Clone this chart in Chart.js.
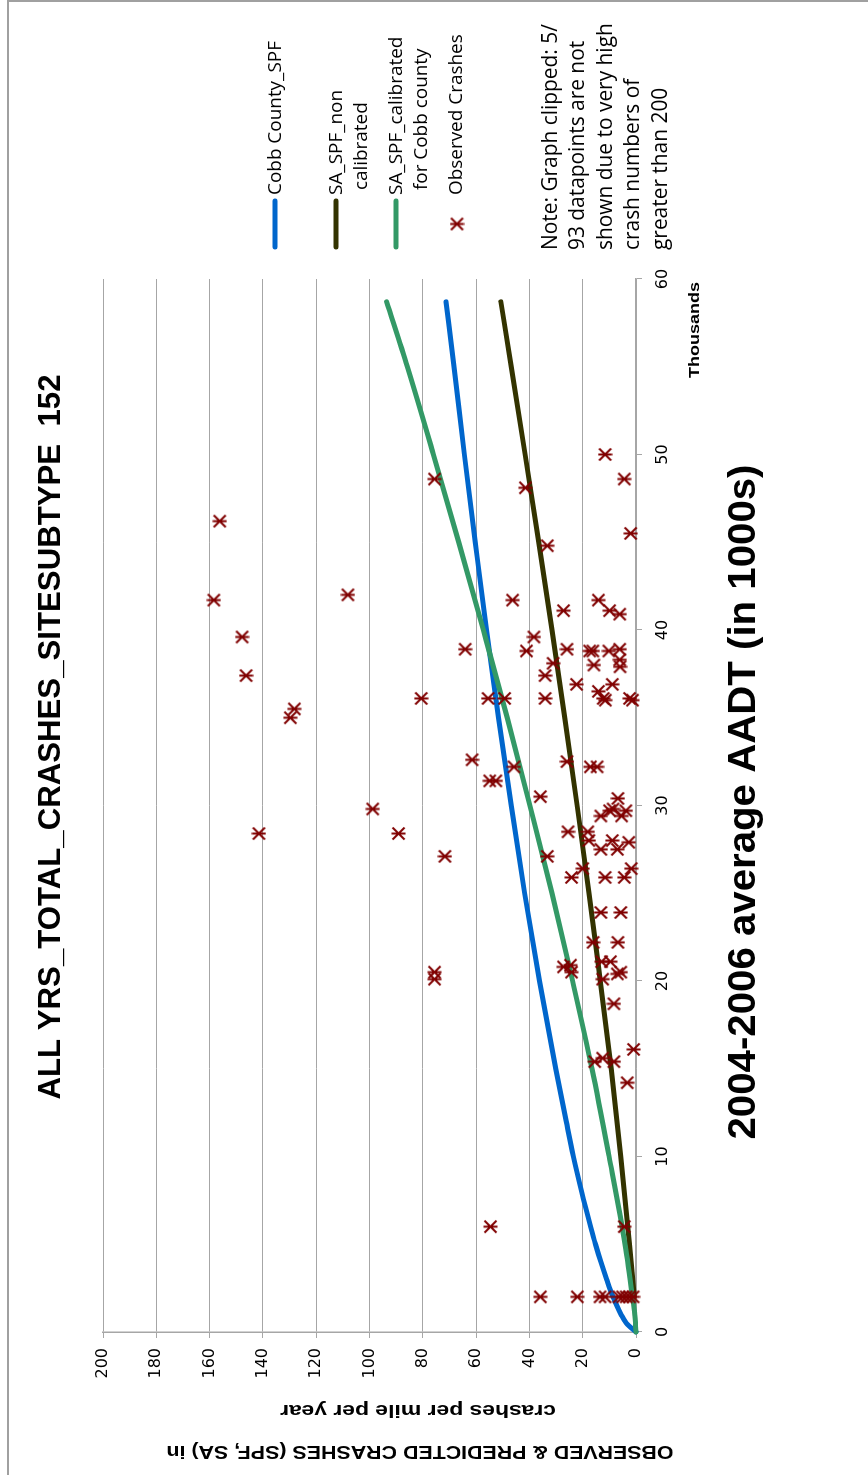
<!DOCTYPE html>
<html>
<head>
<meta charset="utf-8">
<script src="https://cdn.jsdelivr.net/npm/chart.js@4/dist/chart.umd.min.js"></script>
<style>
  html, body { margin: 0; padding: 0; background: #fff; overflow: hidden; }
  body { width: 868px; height: 1475px; position: relative; }
  /* the chart is laid out landscape and turned a quarter turn counter-clockwise */
  #wrap {
    position: absolute; left: 0; top: 0;
    width: 1475px; height: 868px;
    transform-origin: 0 0;
    transform: translate(0px, 1475px) rotate(-90deg);
  }
  canvas { display: block; }
</style>
</head>
<body>
<div id="wrap"><canvas id="c" width="1475" height="868"></canvas></div>
<script>
// ---- data ----------------------------------------------------------------
// Observed crashes per mile per year against 2004-2006 average AADT (thousands)
const obsAadt = [
  48.6, 48.1, 50.0, 48.6,
  46.2, 45.5, 44.8, 41.7, 42.0, 41.7, 41.7, 41.1, 41.1, 40.9, 39.6, 39.6, 38.9, 38.8,
  38.9, 38.8, 38.8, 38.8, 38.9, 38.3, 37.9, 38.0, 38.1, 37.4, 37.4, 36.9, 36.9, 36.5,
  36.1, 36.0, 36.1, 36.0, 36.1, 36.1, 36.1, 36.1,
  35.5, 35.0, 32.6, 32.2, 32.5, 32.2, 32.2, 31.4, 31.4, 30.5, 30.4, 29.8, 29.4, 29.7,
  29.8, 29.7, 29.4, 28.4, 28.4, 28.5, 28.5, 28.0, 28.0, 27.9, 27.5, 27.5, 27.1, 27.1,
  26.4, 25.9, 25.9, 25.9, 26.4,
  23.9, 23.9, 22.2, 22.2, 20.5, 20.1, 20.8, 20.9, 20.5, 21.1, 21.1, 20.4, 20.5, 20.1,
  18.7, 16.1, 15.4, 15.6, 15.4, 14.2,
  6.0, 6.0, 2.0, 2.0, 2.0, 2.0, 2.0, 2.0, 2.0, 2.0, 2.0
];
const obsCrashes = [
  75.6, 41.5, 11.6, 4.4,
  156.2, 2.0, 33.3, 158.4, 108.1, 46.3, 14.1, 27.2, 9.9, 6.1, 147.8, 38.3, 64.1, 41.1,
  25.9, 17.4, 16.2, 10.2, 6.1, 6.1, 6.0, 15.8, 31.1, 146.3, 34.1, 22.3, 8.9, 14.1,
  12.3, 11.5, 2.4, 1.3, 80.6, 55.5, 49.3, 34.1,
  128.2, 129.7, 61.5, 45.8, 25.9, 17.1, 14.6, 54.9, 52.6, 35.9, 6.8, 98.8, 13.2, 9.9,
  8.6, 3.8, 5.4, 141.5, 89.1, 25.5, 18.1, 17.7, 8.9, 2.7, 13.2, 7.0, 71.7, 33.3,
  20.0, 24.2, 11.6, 4.4, 1.8,
  13.2, 5.7, 16.1, 6.8, 75.6, 75.6, 27.2, 24.6, 24.2, 12.9, 9.6, 7.0, 5.7, 12.5,
  8.3, 0.9, 15.5, 12.5, 8.3, 3.3,
  54.6, 4.4, 35.9, 22.0, 13.5, 11.6, 6.4, 5.0, 3.7, 2.4, 1.1
];

// Cobb County SPF
const cobbAadt  = [0, 0.5, 1, 2, 3, 4, 5, 6, 8, 10, 12, 15, 20, 25, 30, 35, 40, 45, 50, 55, 58.7];
const cobbSpf   = [0, 3.6, 5.6, 8.6, 11.0, 13.2, 15.2, 17.0, 20.4, 23.5, 26.2, 30.1, 36.2, 41.8, 46.8, 51.6, 56.1, 60.3, 64.4, 68.3, 71.3];
// SA SPF, non calibrated
const saAadt    = [2.0, 5, 10, 15, 20, 25, 30, 35, 40, 45, 50, 55, 58.7];
const saSpf     = [0.7, 2.4, 5.7, 9.3, 13.4, 17.6, 22.1, 26.7, 31.5, 36.5, 41.6, 46.8, 50.7];
// SA SPF calibrated for Cobb county
const saCalAadt = [0, 1, 2, 5, 10, 15, 20, 25, 30, 35, 40, 45, 50, 55, 58.7];
const saCalSpf  = [0, 0.5, 1.3, 4.1, 10.1, 16.5, 23.8, 31.5, 39.8, 48.3, 57.3, 66.5, 76.0, 85.8, 93.6];

const xTicks = [0, 10, 20, 30, 40, 50, 60];
const yTicks = [0, 20, 40, 60, 80, 100, 120, 140, 160, 180, 200];

const seriesNames = ['Cobb County_SPF', 'SA_SPF_non calibrated', 'SA_SPF_calibrated for Cobb county', 'Observed Crashes'];
const titleText  = 'ALL YRS_TOTAL_CRASHES_SITESUBTYPE  152';
const xTitleText = '2004-2006 average AADT (in 1000s)';
const yTitleLines = ['OBSERVED & PREDICTED CRASHES (SPF, SA) in', 'crashes per mile per year'];
const noteLines = ['Note: Graph clipped: 5/', '93 datapoints are not', 'shown due to very high', 'crash numbers of', 'greater than 200'];

// ---- styling -------------------------------------------------------------
const COLORS = { cobb: '#0066CC', sa: '#333300', saCal: '#339966', obs: '#800000', grid: '#A6A6A6' };
const TICK_FONT = { family: 'DejaVu Sans, Verdana, sans-serif', size: 16 };

function pairs(xs, ys) { return xs.map((x, i) => ({ x: x, y: ys[i] })); }

// asterisk marker: two diagonals and an upright stroke
function makeStar(size, color) {
  const c = document.createElement('canvas');
  c.width = size; c.height = size;
  const g = c.getContext('2d');
  const m = size / 2, r = size / 2 - 1.5;
  g.strokeStyle = color; g.lineWidth = 2; g.lineCap = 'butt';
  g.beginPath();
  g.moveTo(m - r, m - r); g.lineTo(m + r, m + r);
  g.moveTo(m + r, m - r); g.lineTo(m - r, m + r);
  g.moveTo(m, 0.5); g.lineTo(m, size - 0.5);
  g.stroke();
  return c;
}
const star = makeStar(15, COLORS.obs);

// text squeezed or stretched horizontally to a given advance width
function fitText(ctx, text, x, y, font, width, rot, align) {
  ctx.save();
  ctx.font = font;
  const w = ctx.measureText(text).width;
  ctx.translate(x, y);
  if (rot) ctx.rotate(rot);
  ctx.scale(width / w, 1);
  ctx.textAlign = align || 'center';
  ctx.textBaseline = 'middle';
  ctx.fillStyle = '#000';
  ctx.fillText(text, 0, 0);
  ctx.restore();
}
function sizeFor(ctx, text, family, weight, width) {
  ctx.font = weight + ' 100px ' + family;
  return 100 * width / ctx.measureText(text).width;
}

const decor = {
  id: 'decor',
  afterDraw(chart) {
    const ctx = chart.ctx;
    // frame edges
    ctx.save();
    ctx.strokeStyle = '#A0A0A0'; ctx.lineWidth = 2;
    ctx.beginPath();
    ctx.moveTo(0, 8); ctx.lineTo(1474, 8); ctx.lineTo(1474, 868);
    ctx.stroke();
    ctx.restore();

    const bold = '"Liberation Sans", Arial, sans-serif';
    fitText(ctx, titleText, 738, 51, 'bold 32px ' + bold, 725);
    fitText(ctx, xTitleText, 673, 745, 'bold 38px ' + bold, 675);
    fitText(ctx, yTitleLines[0], 24, 420, 'bold 19px ' + bold, 507, -Math.PI / 2);
    fitText(ctx, yTitleLines[1], 65, 418, 'bold 19px ' + bold, 276, -Math.PI / 2);
    fitText(ctx, 'Thousands', 1145, 695, 'bold 14px ' + bold, 96);

    // legend
    const fam = '"Open Sans", "Noto Sans", sans-serif';
    const lsz = sizeFor(ctx, 'Cobb County_SPF', fam, 'normal', 154);
    const lines = [
      { v: 275, color: COLORS.cobb, text: ['Cobb County_SPF'] },
      { v: 336, color: COLORS.sa, text: ['SA_SPF_non', ' calibrated'] },
      { v: 396, color: COLORS.saCal, text: ['SA_SPF_calibrated', ' for Cobb county'] }
    ];
    ctx.save();
    ctx.lineCap = 'round'; ctx.lineWidth = 5;
    ctx.font = lsz.toFixed(2) + 'px ' + fam;
    ctx.textAlign = 'left'; ctx.textBaseline = 'middle'; ctx.fillStyle = '#000';
    lines.forEach(function (it) {
      ctx.strokeStyle = it.color;
      ctx.beginPath(); ctx.moveTo(1228, it.v); ctx.lineTo(1274, it.v); ctx.stroke();
      it.text.forEach(function (t, k) { ctx.fillText(t, 1280, it.v + 1 + k * 24.5); });
    });
    ctx.drawImage(star, 1251 - 7.5, 457 - 7.5);
    ctx.fillText(seriesNames[3], 1280, 457);

    // note
    const nsz = sizeFor(ctx, noteLines[0], fam, 'normal', 226);
    ctx.font = nsz.toFixed(2) + 'px ' + fam;
    noteLines.forEach(function (t, k) { ctx.fillText(t, 1225, 551 + k * 27.5); });
    ctx.restore();
  }
};

const lineBase = {
  showLine: true, pointRadius: 0, pointHoverRadius: 0, borderWidth: 5,
  borderCapStyle: 'round', borderJoinStyle: 'round', cubicInterpolationMode: 'monotone',
  clip: false
};

new Chart(document.getElementById('c'), {
  type: 'scatter',
  data: {
    datasets: [
      { label: seriesNames[3], data: pairs(obsAadt, obsCrashes), pointStyle: star,
        pointRadius: 7, showLine: false, clip: false },
      Object.assign({ label: seriesNames[2], data: pairs(saCalAadt, saCalSpf),
        borderColor: COLORS.saCal, backgroundColor: COLORS.saCal }, lineBase),
      Object.assign({ label: seriesNames[1], data: pairs(saAadt, saSpf),
        borderColor: COLORS.sa, backgroundColor: COLORS.sa }, lineBase),
      Object.assign({ label: seriesNames[0], data: pairs(cobbAadt, cobbSpf),
        borderColor: COLORS.cobb, backgroundColor: COLORS.cobb }, lineBase)
    ]
  },
  options: {
    responsive: false,
    devicePixelRatio: 1,
    animation: false,
    events: [],
    layout: { padding: { left: 0, top: 103, right: 279, bottom: 0 } },
    plugins: { legend: { display: false }, tooltip: { enabled: false } },
    scales: {
      x: {
        type: 'linear', min: 0, max: 60,
        afterBuildTicks: function (s) { s.ticks = xTicks.map(v => ({ value: v })); },
        afterFit: function (s) { s.height = 868 - 636; },
        grid: { drawOnChartArea: false, color: COLORS.grid, tickLength: 6 },
        border: { color: COLORS.grid, width: 1.5 },
        ticks: { color: '#000', font: TICK_FONT, padding: 11, maxRotation: 0, callback: v => String(v) }
      },
      y: {
        type: 'linear', min: 0, max: 200,
        afterBuildTicks: function (s) { s.ticks = yTicks.map(v => ({ value: v })); },
        afterFit: function (s) { s.width = 143; },
        grid: { color: COLORS.grid, tickLength: 6 },
        border: { color: COLORS.grid, width: 1.5 },
        ticks: { color: '#000', font: TICK_FONT, padding: 10, callback: v => String(v) }
      }
    }
  },
  plugins: [decor]
});
</script>
</body>
</html>
